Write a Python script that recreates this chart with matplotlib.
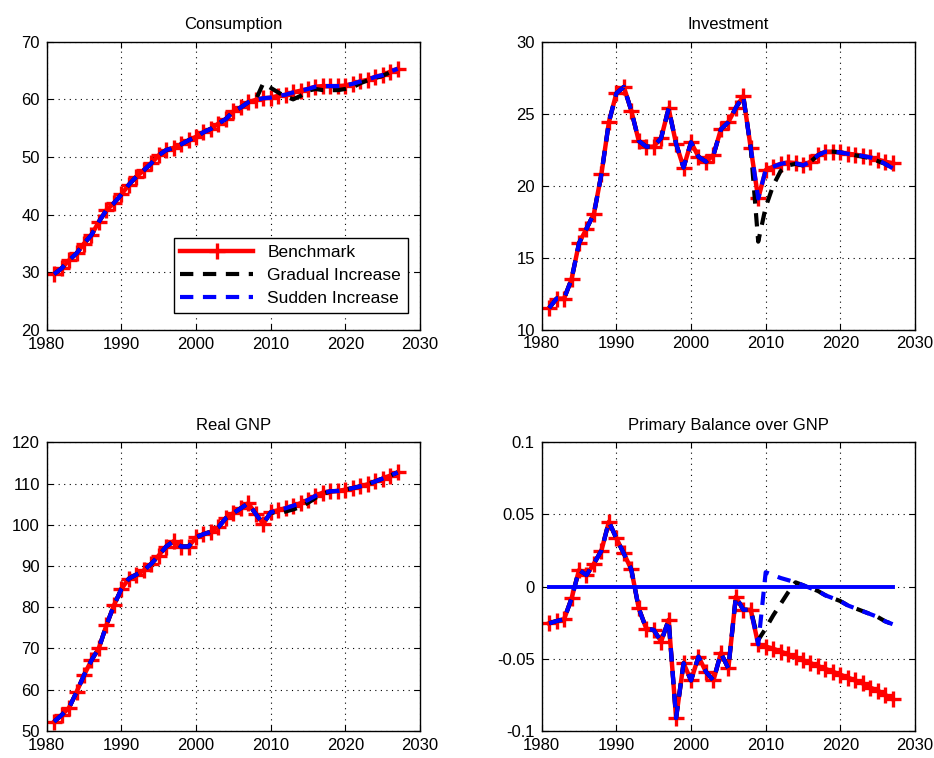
import numpy as np
import matplotlib
matplotlib.use("Agg")
import matplotlib.pyplot as plt

plt.rcParams['font.family'] = ['Liberation Sans', 'DejaVu Sans']

# years 1981..2027
years = list(range(1981, 2028))

# Consumption
cons_bench = [29.7, 30.7, 32.1, 33.3, 35.0, 36.5, 38.8, 40.8, 42.0, 43.5,
              45.2, 46.6, 47.7, 48.9, 50.3, 51.2, 51.6, 52.2, 52.9, 53.5,
              54.3, 54.9, 55.8, 56.6, 57.9, 58.6, 59.5, 59.9, 60.2, 60.3,
              60.6, 60.8, 61.2, 61.5, 61.8, 62.2, 62.3, 62.3, 62.3, 62.4,
              62.7, 63.1, 63.4, 63.9, 64.2, 64.8, 65.3]
cons_grad = cons_bench[:28] + [62.8, 62.0, 61.2, 60.5, 60.0, 60.6, 61.5, 61.8,
                               61.6, 61.6, 61.6, 61.8, 62.1, 62.8, 63.3, 63.7,
                               64.1, 64.7, 65.3]
cons_sudd = list(cons_bench)

# Investment
inv_bench = [11.5, 12.15, 12.15, 13.5, 16.0, 17.0, 18.05, 20.8, 24.4, 26.4,
             26.85, 25.2, 23.1, 22.7, 22.7, 23.3, 25.35, 22.9, 21.25, 23.0,
             22.0, 21.65, 22.1, 23.9, 24.4, 25.4, 26.2, 22.6, 19.1, 21.07,
             21.3, 21.5, 21.6, 21.55, 21.4, 21.65, 22.1, 22.35, 22.35, 22.3,
             22.2, 22.15, 22.05, 21.95, 21.8, 21.65, 21.55]
inv_grad = inv_bench[:28] + [16.1, 18.5, 20.0, 21.0, 21.4, 21.5, 21.4, 21.65,
                             22.1, 22.35, 22.35, 22.3, 22.2, 22.1, 22.0, 21.9,
                             21.7, 21.5, 21.2]
inv_sudd = inv_bench[:45] + [21.5, 21.2]

# Real GNP
gnp_bench = [52.2, 53.8, 55.6, 59.4, 63.5, 67.1, 70.1, 75.6, 80.4, 84.4,
             86.9, 87.9, 88.9, 90.5, 92.5, 94.7, 96.0, 94.7, 94.7, 96.9,
             97.7, 98.3, 99.4, 101.6, 102.8, 104.0, 105.2, 102.6, 100.2, 103.0,
             103.5, 104.0, 104.6, 105.2, 106.0, 107.0, 107.8, 108.1, 108.2, 108.5,
             108.9, 109.3, 109.8, 110.5, 111.2, 111.9, 112.7]
gnp_grad = gnp_bench[:29] + [103.0, 102.8, 103.2, 103.7, 104.3, 105.3, 106.5,
                             107.5, 108.1, 108.2, 108.5, 108.9, 109.3, 109.8,
                             110.5, 111.2, 111.9, 112.7]
gnp_sudd = list(gnp_bench)

# Primary balance over GNP
pb_bench = [-0.0254, -0.0238, -0.0226, -0.0081, 0.0115, 0.0081, 0.016, 0.025,
            0.045, 0.0335, 0.023, 0.012, -0.015, -0.029, -0.030, -0.038,
            -0.023, -0.091, -0.053, -0.065, -0.0485, -0.059, -0.065, -0.046,
            -0.0566, -0.007, -0.016, -0.016, -0.040, -0.0415, -0.043, -0.045,
            -0.047, -0.049, -0.051, -0.053, -0.055, -0.057, -0.059, -0.061,
            -0.063, -0.065, -0.067, -0.070, -0.072, -0.075, -0.078]
pb_grad = pb_bench[:28] + [-0.037, -0.029, -0.020, -0.012, -0.004, 0.003,
                           0.001, -0.001, -0.003, -0.006, -0.008, -0.010,
                           -0.013, -0.015, -0.017, -0.019, -0.021, -0.024, -0.026]
pb_sudd = pb_bench[:28] + [-0.040, 0.010, 0.008, 0.006, 0.0045, 0.003,
                           0.001, -0.001, -0.003, -0.006, -0.008, -0.010,
                           -0.013, -0.015, -0.017, -0.019, -0.021, -0.024, -0.026]
pb_zero = [0.0] * len(years)

panels = [
    ("Consumption", cons_bench, cons_grad, cons_sudd, (20, 70), [20, 30, 40, 50, 60, 70]),
    ("Investment", inv_bench, inv_grad, inv_sudd, (10, 30), [10, 15, 20, 25, 30]),
    ("Real GNP", gnp_bench, gnp_grad, gnp_sudd, (50, 120), [50, 60, 70, 80, 90, 100, 110, 120]),
    ("Primary Balance over GNP", pb_bench, pb_grad, pb_sudd, (-0.1, 0.1), [-0.1, -0.05, 0, 0.05, 0.1]),
]

W, H = 934, 758
fig = plt.figure(figsize=(W / 100, H / 100), dpi=100)

# axes boxes in pixels: left, top, right, bottom
boxes = [(46.7, 41.7, 420, 330), (541.7, 41.5, 915, 329.5),
         (46.7, 442.3, 420, 730.7), (541.7, 442.3, 915, 731)]

for i, (title, bench, grad, sudd, ylim, yt) in enumerate(panels):
    l, t, r, b = boxes[i]
    ax = fig.add_axes([l / W, (H - b) / H, (r - l) / W, (b - t) / H])
    ax.plot(years, bench, color='red', lw=3.2, marker='+', ms=11, mew=2.4,
            label='Benchmark')
    ax.plot(years, grad, color='black', lw=3, ls=(0, (3.2, 2.3)),
            label='Gradual Increase')
    ax.plot(years, sudd, color='blue', lw=3, ls=(0, (3.2, 2.3)),
            label='Sudden Increase')
    if i == 3:
        ax.plot(years, pb_zero, color='blue', lw=2.8)
    ax.set_xlim(1980, 2030)
    ax.set_ylim(*ylim)
    ax.set_xticks([1980, 1990, 2000, 2010, 2020, 2030])
    ax.set_yticks(yt)
    if i == 3:
        ax.set_yticklabels(['-0.1', '-0.05', '0', '0.05', '0.1'])
    ax.grid(True, color='black', ls=(0, (1, 4)), lw=0.8)
    ax.tick_params(direction='in', labelsize=12, top=True, right=True,
                   length=4, width=0.8, pad=5)
    for s in ax.spines.values():
        s.set_linewidth(1.0)
    ax.set_title(title, fontsize=12, pad=9)
    if i == 0:
        leg = ax.legend(loc='lower right', fontsize=12.5, handlelength=4.2,
                        fancybox=False, edgecolor='black', framealpha=1,
                        borderaxespad=0.8, labelspacing=0.45,
                        bbox_to_anchor=(1.005, 0.01))
        leg.get_frame().set_linewidth(1.0)

fig.savefig('out.png', dpi=100)
